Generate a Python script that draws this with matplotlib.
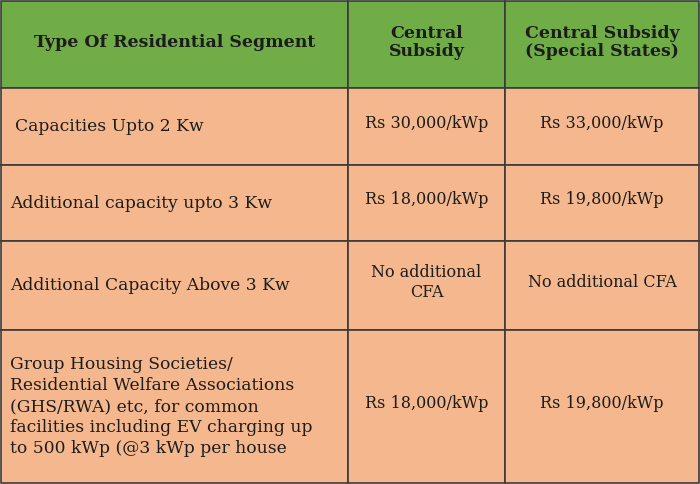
import matplotlib
matplotlib.use("Agg")
import matplotlib.pyplot as plt
from matplotlib.patches import Rectangle

headers = ["Type Of Residential Segment", "Central\nSubsidy", "Central Subsidy\n(Special States)"]
segments = [
    "Capacities Upto 2 Kw",
    "Additional capacity upto 3 Kw",
    "Additional Capacity Above 3 Kw",
    "Group Housing Societies/\nResidential Welfare Associations\n(GHS/RWA) etc, for common\nfacilities including EV charging up\nto 500 kWp (@3 kWp per house",
]
central = ["Rs 30,000/kWp", "Rs 18,000/kWp", "No additional\nCFA", "Rs 18,000/kWp"]
special = ["Rs 33,000/kWp", "Rs 19,800/kWp", "No additional CFA", "Rs 19,800/kWp"]

col_edges = [1, 348, 505, 699]
row_edges = [1, 88, 165, 241, 330, 483]
green = "#70ad47"
peach = "#f5b88e"
line = "#3a3a3a"
txt = "#1c1c1c"
font = "DejaVu Serif"

fig = plt.figure(figsize=(7, 4.84), dpi=100)
ax = fig.add_axes([0, 0, 1, 1])
ax.set_xlim(0, 700)
ax.set_ylim(484, 0)
ax.axis("off")

rows = [headers] + [[s, c, p] for s, c, p in zip(segments, central, special)]
for r, cells in enumerate(rows):
    y0, y1 = row_edges[r], row_edges[r + 1]
    for c, text in enumerate(cells):
        x0, x1 = col_edges[c], col_edges[c + 1]
        ax.add_patch(Rectangle((x0, y0), x1 - x0, y1 - y0,
                               facecolor=green if r == 0 else peach,
                               edgecolor=line, linewidth=1.2))
        ym = (y0 + y1) / 2
        if r == 0:
            ax.text((x0 + x1) / 2, ym - 2, text, ha="center", va="center",
                    fontsize=12.5, fontweight="bold", color=txt, family=font,
                    linespacing=1.1)
        elif c == 0:
            xoff = 14 if r == 1 else 9
            ax.text(x0 + xoff, ym, text, ha="left", va="center",
                    fontsize=12.3, color=txt, family=font, linespacing=1.3)
        else:
            ax.text((x0 + x1) / 2, ym - 3, text, ha="center", va="center",
                    fontsize=11.5, color=txt, family=font, linespacing=1.3)

fig.savefig("out.png", dpi=100)
